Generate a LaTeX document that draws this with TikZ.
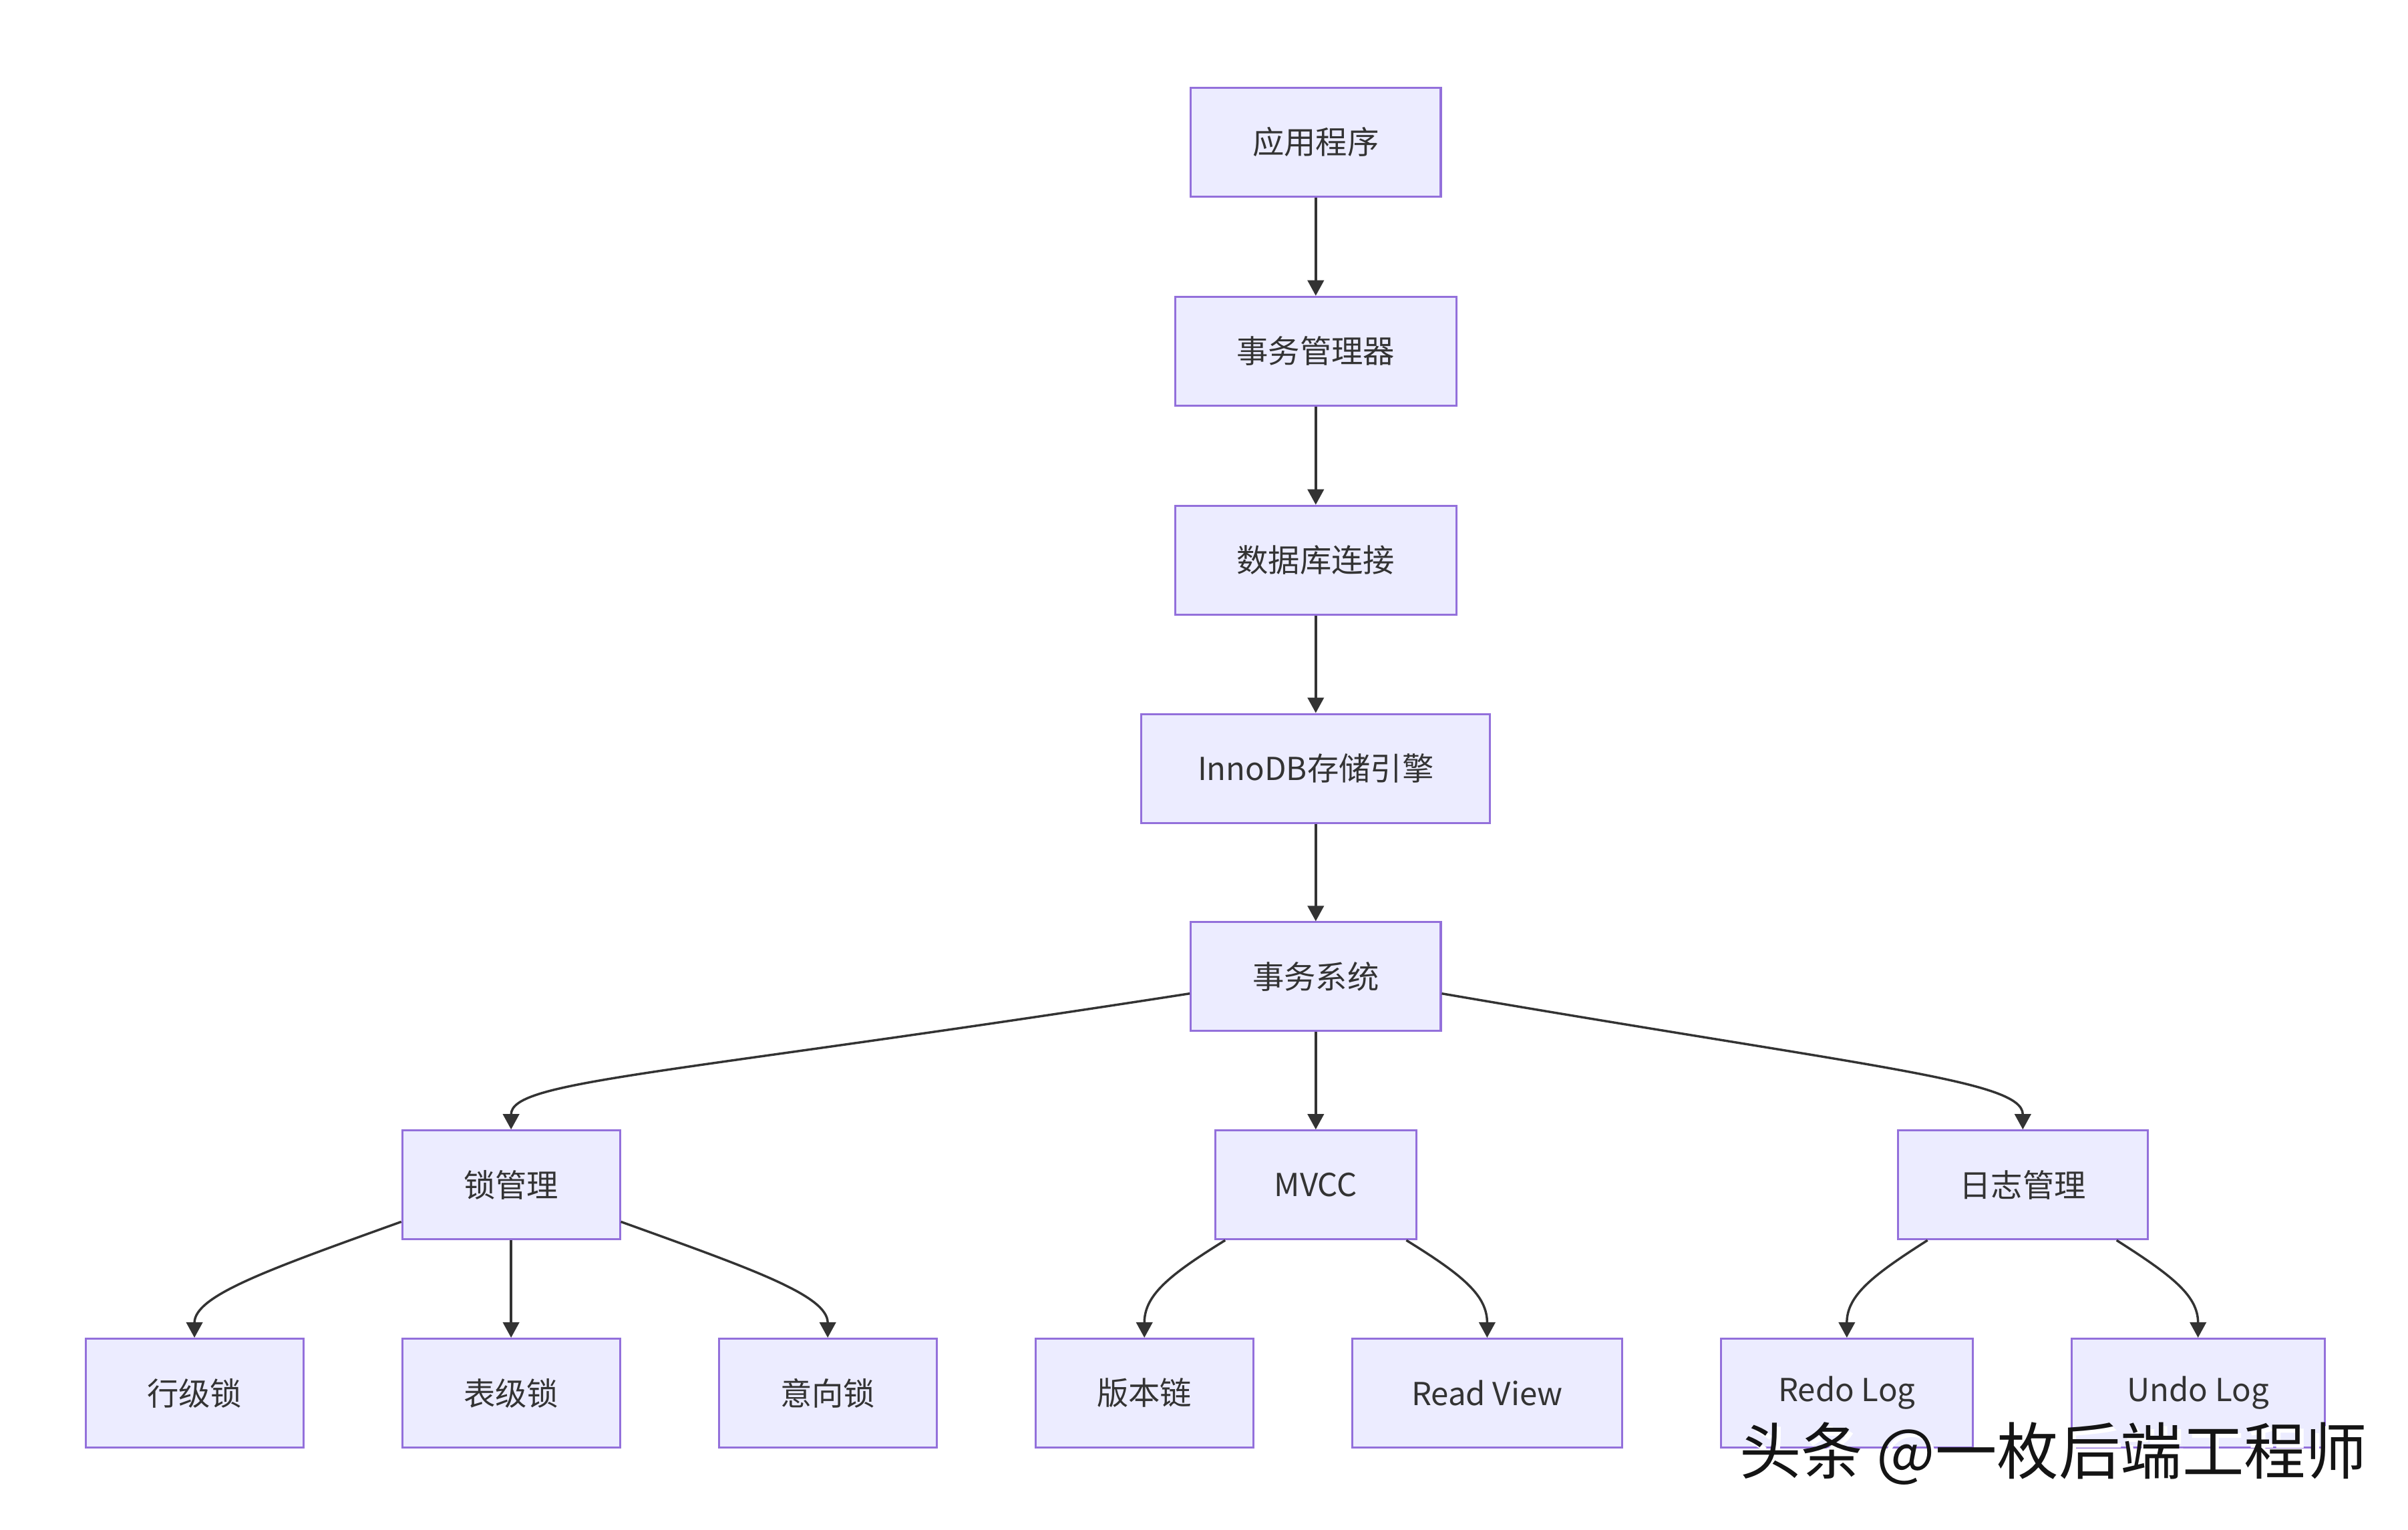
\documentclass[tikz,border=0pt]{standalone}
\usepackage{fontspec}
\setmainfont{Noto Sans CJK SC}
\newfontfamily\cjk{Noto Sans CJK SC}
\usetikzlibrary{arrows.meta,calc}
\definecolor{boxfill}{HTML}{ECECFF}
\definecolor{boxdraw}{HTML}{9370DB}
\definecolor{ink}{HTML}{333333}
\tikzset{
  box/.style={draw=boxdraw, fill=boxfill, line width=1.3pt, minimum height=70.5pt,
    inner sep=0pt, text=ink, font=\cjk\fontsize{20.5}{24}\selectfont},
  link/.style={draw=ink, line width=1.5pt, -{Triangle[length=10pt,width=10.5pt]}},
  wmark/.style={font=\cjk\fontsize{40}{46}\selectfont, inner sep=0pt}
}
\begin{document}
\begin{tikzpicture}[x=0.9958pt,y=-0.9958pt]
\useasboundingbox[fill=white] (0,0) rectangle (1566.6,995.2);
% nodes
\node[box, minimum width=162pt] (app)  at (856,92.5)  {应用程序};
\node[box, minimum width=182pt] (txm)  at (856,228.5) {事务管理器};
\node[box, minimum width=182pt] (db)   at (856,364.5) {数据库连接};
\node[box, minimum width=226pt] (inno) at (856,500)   {InnoDB存储引擎};
\node[box, minimum width=162pt] (sys)  at (856,635.5) {事务系统};
\node[box, minimum width=141pt] (lock) at (332.5,771) {锁管理};
\node[box, minimum width=130pt] (mvcc) at (856,771)   {MVCC};
\node[box, minimum width=162pt] (log)  at (1316,771)  {日志管理};
\node[box, minimum width=141pt] (row)  at (126.5,906.5) {行级锁};
\node[box, minimum width=141pt] (tbl)  at (332.5,906.5) {表级锁};
\node[box, minimum width=141pt] (int)  at (538.5,906.5) {意向锁};
\node[box, minimum width=141pt] (ver)  at (744.5,906.5) {版本链};
\node[box, minimum width=175pt] (rv)   at (967.5,906.5) {Read View};
\node[box, minimum width=163pt] (redo) at (1201.5,906.5) {Redo Log};
\node[box, minimum width=164pt] (undo) at (1430,906.5) {Undo Log};
% straight links
\draw[link] (app) -- (txm);
\draw[link] (txm) -- (db);
\draw[link] (db) -- (inno);
\draw[link] (inno) -- (sys);
\draw[link] (sys) -- (mvcc);
\draw[link] (lock) -- (tbl);
% curved links
\draw[link] ($(sys.west)+(0,11)$) .. controls (430,700) and (332.5,703) .. (lock.north);
\draw[link] ($(sys.east)+(0,11)$) .. controls (1220,695) and (1316,703) .. (log.north);
\draw[link] ($(lock.west)+(0,24)$) .. controls (175,826) and (126.5,843) .. (row.north);
\draw[link] ($(lock.east)+(0,24)$) .. controls (490,826) and (538.5,843) .. (int.north);
\draw[link] ($(mvcc.south west)+(7,0)$) .. controls (760,830) and (744.5,843) .. (ver.north);
\draw[link] ($(mvcc.south east)+(-7,0)$) .. controls (952,830) and (967.5,843) .. (rv.north);
\draw[link] ($(log.south west)+(20,0)$) .. controls (1218,830) and (1201.5,843) .. (redo.north);
\draw[link] ($(log.south east)+(-21,0)$) .. controls (1413,830) and (1430,843) .. (undo.north);
% watermark with white shadow
\node[wmark, text=white] (wmshadow) at (1338.5,948.5) {头条 @一枚后端工程师};
\node[wmark, text=black!92] (wm) at (1336,946) {头条 @一枚后端工程师};
\end{tikzpicture}
\end{document}
